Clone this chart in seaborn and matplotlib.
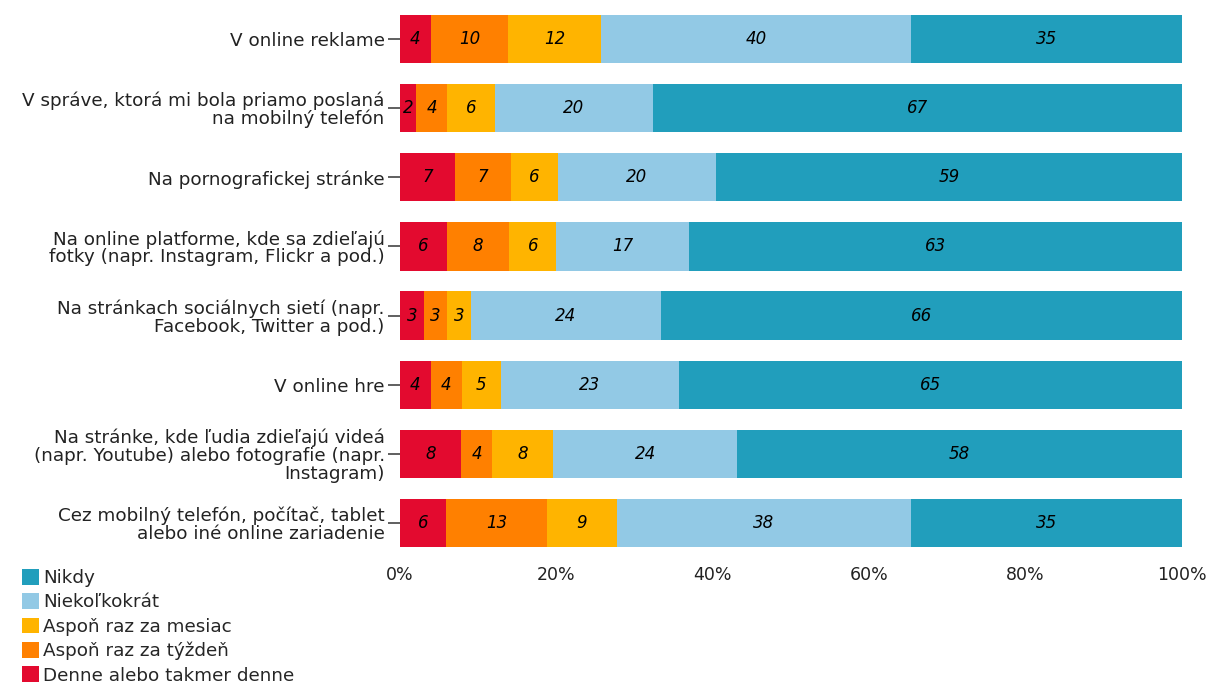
import matplotlib
matplotlib.use("Agg")
import matplotlib.pyplot as plt
import seaborn as sns
import pandas as pd
import numpy as np
from matplotlib.patches import Patch

categories = [
    "V online reklame",
    "V správe, ktorá mi bola priamo poslaná\nna mobilný telefón",
    "Na pornografickej stránke",
    "Na online platforme, kde sa zdieľajú\nfotky (napr. Instagram, Flickr a pod.)",
    "Na stránkach sociálnych sietí (napr.\nFacebook, Twitter a pod.)",
    "V online hre",
    "Na stránke, kde ľudia zdieľajú videá\n(napr. Youtube) alebo fotografie (napr.\nInstagram)",
    "Cez mobilný telefón, počítač, tablet\nalebo iné online zariadenie",
]
series_names = ["Denne alebo takmer denne", "Aspoň raz za týždeň",
                "Aspoň raz za mesiac", "Niekoľkokrát", "Nikdy"]
denne = [4, 2, 7, 6, 3, 4, 8, 6]
tyzden = [10, 4, 7, 8, 3, 4, 4, 13]
mesiac = [12, 6, 6, 6, 3, 5, 8, 9]
niekolko = [40, 20, 20, 17, 24, 23, 24, 38]
nikdy = [35, 67, 59, 63, 66, 65, 58, 35]
colors = ["#E30A2F", "#FF8000", "#FFB400", "#92C9E5", "#219EBC"]

sns.set_theme(style="white")
plt.rcParams["font.family"] = ["DejaVu Sans"]

vals = np.array([denne, tyzden, mesiac, niekolko, nikdy], dtype=float)
totals = vals.sum(axis=0)
pct = vals / totals * 100
cum = np.cumsum(pct, axis=0)

fig = plt.figure(figsize=(12.1, 6.86), dpi=100)
ax = fig.add_axes([400/1210, 1-557.6/686, 782/1210, 553.2/686])

for i in range(len(series_names) - 1, -1, -1):
    df = pd.DataFrame({"cat": categories, "val": cum[i]})
    sns.barplot(data=df, y="cat", x="val", orient="h", color=colors[i],
                saturation=1, width=0.7, ax=ax, edgecolor="none")

for i in range(len(series_names)):
    for j in range(len(categories)):
        start = cum[i][j] - pct[i][j]
        ax.text(start + pct[i][j] / 2, j, str(int(vals[i][j])), ha="center",
                va="center", fontsize=12, style="italic", color="black")

ax.set_xlim(0, 100)
ax.set_ylim(7.5, -0.5)
ax.set_xticks([0, 20, 40, 60, 80, 100])
ax.set_xticklabels(["0%", "20%", "40%", "60%", "80%", "100%"])
ax.set_xlabel("")
ax.set_ylabel("")
for lbl in ax.get_yticklabels():
    lbl.set_linespacing(0.98)
for s in ax.spines.values():
    s.set_visible(False)
ax.tick_params(axis="y", length=9, width=1.2, color="#444444", left=True,
               labelsize=13.2, labelcolor="#222222", pad=2)
ax.tick_params(axis="x", length=0, labelsize=12.5, labelcolor="#222222", pad=6)

handles = [Patch(facecolor=colors[i], edgecolor="none") for i in range(4, -1, -1)]
labels = [series_names[i] for i in range(4, -1, -1)]
fig.legend(handles, labels, loc="upper left", bbox_to_anchor=(0.018, 1-569/686),
           frameon=False, fontsize=13.2, handlelength=0.95, handleheight=0.95,
           handletextpad=0.2, labelspacing=0.33, borderpad=0, borderaxespad=0)

fig.savefig("out.png", dpi=100)
